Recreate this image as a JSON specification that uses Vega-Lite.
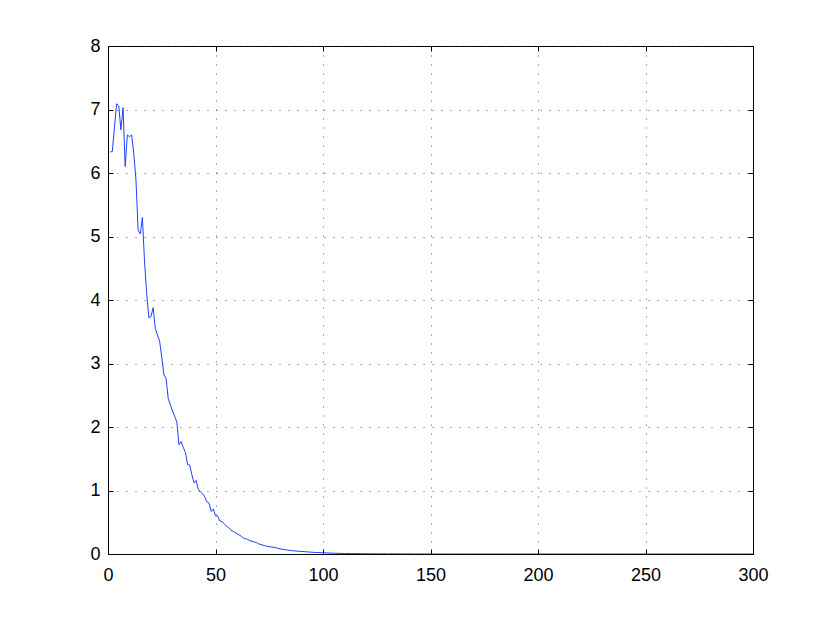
{
  "$schema": "https://vega.github.io/schema/vega-lite/v6.json",
  "width": 645,
  "height": 508,
  "autosize": {"type": "none"},
  "padding": {"left": 108, "top": 46, "right": 77, "bottom": 70},
  "background": "white",
  "config": {
    "view": {"stroke": "black", "strokeWidth": 1},
    "axis": {
      "labelFont": "Liberation Sans",
      "labelFontSize": 18,
      "labelColor": "black",
      "domain": false,
      "tickColor": "black",
      "tickSize": -5,
      "gridColor": "#333333",
      "gridDash": [1, 8],
      "gridOpacity": 0.8,
      "gridWidth": 1
    }
  },
  "data": {"values": [
    {"x": 1, "y": 6.33}, {"x": 2, "y": 6.34}, {"x": 4, "y": 7.09}, {"x": 5, "y": 7.06},
    {"x": 6, "y": 6.68}, {"x": 7, "y": 7.03}, {"x": 8, "y": 6.1}, {"x": 9, "y": 6.6},
    {"x": 10, "y": 6.57}, {"x": 11, "y": 6.6}, {"x": 12, "y": 6.3}, {"x": 13, "y": 5.9},
    {"x": 14, "y": 5.1}, {"x": 15, "y": 5.04}, {"x": 16, "y": 5.3}, {"x": 17, "y": 4.6},
    {"x": 18, "y": 4.1}, {"x": 19, "y": 3.72}, {"x": 20, "y": 3.74}, {"x": 21, "y": 3.88},
    {"x": 22, "y": 3.55}, {"x": 23, "y": 3.45}, {"x": 24, "y": 3.35}, {"x": 25, "y": 3.1},
    {"x": 26, "y": 2.82}, {"x": 27, "y": 2.77}, {"x": 28, "y": 2.45}, {"x": 29, "y": 2.35},
    {"x": 30, "y": 2.25}, {"x": 31, "y": 2.17}, {"x": 32, "y": 2.08}, {"x": 33, "y": 1.72},
    {"x": 34, "y": 1.77}, {"x": 35, "y": 1.68}, {"x": 36, "y": 1.6}, {"x": 37, "y": 1.41},
    {"x": 38, "y": 1.4}, {"x": 39, "y": 1.25}, {"x": 40, "y": 1.12}, {"x": 41, "y": 1.16},
    {"x": 42, "y": 1.02}, {"x": 43, "y": 0.98}, {"x": 44, "y": 0.95}, {"x": 45, "y": 0.9},
    {"x": 46, "y": 0.82}, {"x": 47, "y": 0.8}, {"x": 48, "y": 0.67}, {"x": 49, "y": 0.71},
    {"x": 50, "y": 0.6}, {"x": 51, "y": 0.6}, {"x": 52, "y": 0.52}, {"x": 53, "y": 0.51},
    {"x": 54, "y": 0.48}, {"x": 55, "y": 0.44}, {"x": 56, "y": 0.42}, {"x": 57, "y": 0.38},
    {"x": 58, "y": 0.36}, {"x": 59, "y": 0.34}, {"x": 60, "y": 0.32}, {"x": 61, "y": 0.3},
    {"x": 62, "y": 0.28}, {"x": 63, "y": 0.25}, {"x": 64, "y": 0.24}, {"x": 65, "y": 0.23},
    {"x": 66, "y": 0.21}, {"x": 67, "y": 0.2}, {"x": 68, "y": 0.19}, {"x": 69, "y": 0.18},
    {"x": 70, "y": 0.16}, {"x": 72, "y": 0.14}, {"x": 74, "y": 0.12}, {"x": 76, "y": 0.11},
    {"x": 78, "y": 0.1}, {"x": 80, "y": 0.08}, {"x": 82, "y": 0.07}, {"x": 85, "y": 0.055},
    {"x": 88, "y": 0.045}, {"x": 92, "y": 0.035}, {"x": 96, "y": 0.025}, {"x": 100, "y": 0.02},
    {"x": 105, "y": 0.012}, {"x": 110, "y": 0.008}, {"x": 120, "y": 0.004}, {"x": 130, "y": 0.002},
    {"x": 140, "y": 0.001}, {"x": 150, "y": 0}, {"x": 175, "y": 0}, {"x": 200, "y": 0},
    {"x": 250, "y": 0}, {"x": 300, "y": 0}
  ]},
  "layer": [
    {
      "mark": {"type": "line", "color": "#1f3fff", "strokeWidth": 1, "clip": true},
      "encoding": {
        "x": {"field": "x", "type": "quantitative", "scale": {"domain": [0, 300], "nice": false, "zero": false},
              "axis": {"orient": "bottom", "values": [0, 50, 100, 150, 200, 250, 300], "title": null, "labelPadding": 17, "labelFlush": false}},
        "y": {"field": "y", "type": "quantitative", "scale": {"domain": [0, 8], "nice": false},
              "axis": {"orient": "left", "values": [0, 1, 2, 3, 4, 5, 6, 7, 8], "title": null, "labelPadding": 13}}
      }
    },
    {
      "mark": {"type": "line", "opacity": 0},
      "encoding": {
        "x": {"field": "x", "type": "quantitative", "scale": {"domain": [0, 300], "nice": false, "zero": false},
              "axis": {"orient": "top", "values": [0, 50, 100, 150, 200, 250, 300], "title": null, "labels": false, "grid": false}},
        "y": {"field": "y", "type": "quantitative", "scale": {"domain": [0, 8], "nice": false},
              "axis": {"orient": "right", "values": [0, 1, 2, 3, 4, 5, 6, 7, 8], "title": null, "labels": false, "grid": false}}
      }
    }
  ],
  "resolve": {"axis": {"x": "independent", "y": "independent"}}
}
